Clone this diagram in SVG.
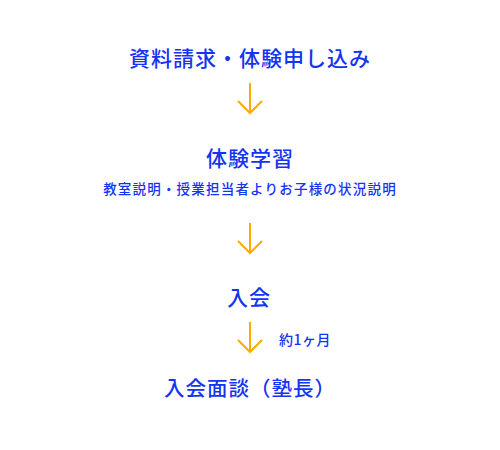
<svg xmlns="http://www.w3.org/2000/svg" width="500" height="450" viewBox="0 0 500 450">
<style>
text{font-family:"Noto Sans CJK JP","Noto Sans",sans-serif;fill:#1433f5;text-anchor:middle;font-weight:500}
.h{font-size:21px;letter-spacing:1px}
.s{font-size:13.5px;letter-spacing:1.2px}
.arr{fill:none;stroke:#ffaa00;stroke-width:2}
</style>
<rect width="500" height="450" fill="#fff"/>
<g id="step1"><text class="h" x="250" y="66">資料請求・体験申し込み</text></g>
<g id="step2"><text class="h" x="250" y="166">体験学習</text><text class="s" x="250" y="194">教室説明・授業担当者よりお子様の状況説明</text></g>
<g id="step3"><text class="h" x="249" y="305">入会</text></g>
<g id="step4"><text class="h" x="250" y="396" style="font-size:20.5px">入会面談（塾長）</text></g>
<g id="connectors">
<path class="arr" d="M250 83V113M238 101L250 113L262 101"/>
<path class="arr" d="M250 223V253M238 241L250 253L262 241"/>
<path class="arr" d="M250 322V352M238 340L250 352L262 340"/>
<text class="s" x="305" y="345" style="font-size:14px;letter-spacing:0.5px">約1ヶ月</text>
</g>
</svg>
